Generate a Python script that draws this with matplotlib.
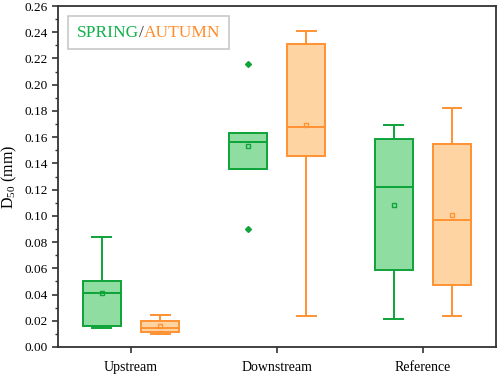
import matplotlib
matplotlib.use("Agg")
import matplotlib.pyplot as plt
from matplotlib.ticker import MultipleLocator, FormatStrFormatter
from matplotlib.offsetbox import AnchoredOffsetbox, TextArea, HPacker

plt.rcParams['font.family'] = ['Liberation Serif', 'DejaVu Serif']
plt.rcParams['mathtext.fontset'] = 'custom'
plt.rcParams['mathtext.rm'] = 'Liberation Serif'
plt.rcParams['mathtext.it'] = 'Liberation Serif:italic'

categories = ["Upstream", "Downstream", "Reference"]

# spring stats: whislo, q1, median, q3, whishi, mean
spring_whislo = [0.0143, 0.136, 0.0217]
spring_q1 = [0.0158, 0.136, 0.0586]
spring_med = [0.0415, 0.156, 0.1217]
spring_q3 = [0.0507, 0.163, 0.1585]
spring_whishi = [0.0835, 0.163, 0.1695]
spring_mean = [0.041, 0.153, 0.1084]
spring_fliers = [[], [0.216, 0.0898], []]

autumn_whislo = [0.0097, 0.0237, 0.0237]
autumn_q1 = [0.0117, 0.1456, 0.0473]
autumn_med = [0.0145, 0.1677, 0.0965]
autumn_q3 = [0.0201, 0.2313, 0.155]
autumn_whishi = [0.0247, 0.2412, 0.1822]
autumn_mean = [0.0158, 0.169, 0.101]
autumn_fliers = [[], [], []]

green_edge = '#0fa33a'
green_fill = '#8fdda1'
orange_edge = '#ff9232'
orange_fill = '#ffd4a3'

fig = plt.figure(figsize=(4.98, 3.77), dpi=100)
ax = fig.add_axes([0.1165, 0.0796, 0.879, 0.9044])

def make_stats(wl, q1, med, q3, wh, mean, fl):
    return [dict(whislo=a, q1=b, med=c, q3=d, whishi=e, mean=f, fliers=g)
            for a, b, c, d, e, f, g in zip(wl, q1, med, q3, wh, mean, fl)]

def draw(stats, positions, edge, fill):
    ax.bxp(stats, positions=positions, widths=0.26, patch_artist=True,
           showmeans=True, showfliers=True,
           boxprops=dict(facecolor=fill, edgecolor=edge, linewidth=1.4),
           medianprops=dict(color=edge, linewidth=1.4),
           whiskerprops=dict(color=edge, linewidth=1.4),
           capprops=dict(color=edge, linewidth=1.4),
           meanprops=dict(marker='s', markersize=3.5, markerfacecolor='none',
                          markeredgecolor=edge, markeredgewidth=1.0),
           flierprops=dict(marker='D', markersize=3, markerfacecolor=edge,
                           markeredgecolor=edge))

x = list(range(1, len(categories) + 1))
draw(make_stats(spring_whislo, spring_q1, spring_med, spring_q3, spring_whishi,
                spring_mean, spring_fliers), [i - 0.2 for i in x], green_edge, green_fill)
draw(make_stats(autumn_whislo, autumn_q1, autumn_med, autumn_q3, autumn_whishi,
                autumn_mean, autumn_fliers), [i + 0.2 for i in x], orange_edge, orange_fill)

ax.set_xlim(0.5, 3.5)
ax.set_ylim(0, 0.26)
ax.set_xticks(x)
ax.set_xticklabels(categories, fontsize=10)
ax.yaxis.set_major_locator(MultipleLocator(0.02))
ax.yaxis.set_minor_locator(MultipleLocator(0.01))
ax.yaxis.set_major_formatter(FormatStrFormatter('%.2f'))
ax.tick_params(axis='y', labelsize=9.5, direction='out', length=4, width=1.2,
               colors='#333333', labelcolor='black', right=False)
ax.tick_params(axis='y', which='minor', length=2.5, width=1.0, colors='#333333')
ax.tick_params(axis='x', direction='out', length=4, width=1.2, colors='#333333',
               labelcolor='black', pad=6, top=False)
for s in ax.spines.values():
    s.set_color('#333333')
    s.set_linewidth(1.3)

ax.set_ylabel('D$_{50}$ (mm)', fontsize=11.5, labelpad=4)

pack = HPacker(children=[TextArea('SPRING', textprops=dict(color='#11b14a', fontsize=12.5)),
                         TextArea('/', textprops=dict(color='#333333', fontsize=12.5)),
                         TextArea('AUTUMN', textprops=dict(color='#ff8c2a', fontsize=12.5))],
               align='center', pad=0, sep=0)
anch = AnchoredOffsetbox(loc='upper left', child=pack, pad=0.6, borderpad=0.75,
                         frameon=True, bbox_to_anchor=(0.0, 1.0),
                         bbox_transform=ax.transAxes)
anch.patch.set_edgecolor('#c8c8c8')
anch.patch.set_linewidth(1.2)
ax.add_artist(anch)

fig.savefig('out.png', dpi=100)
